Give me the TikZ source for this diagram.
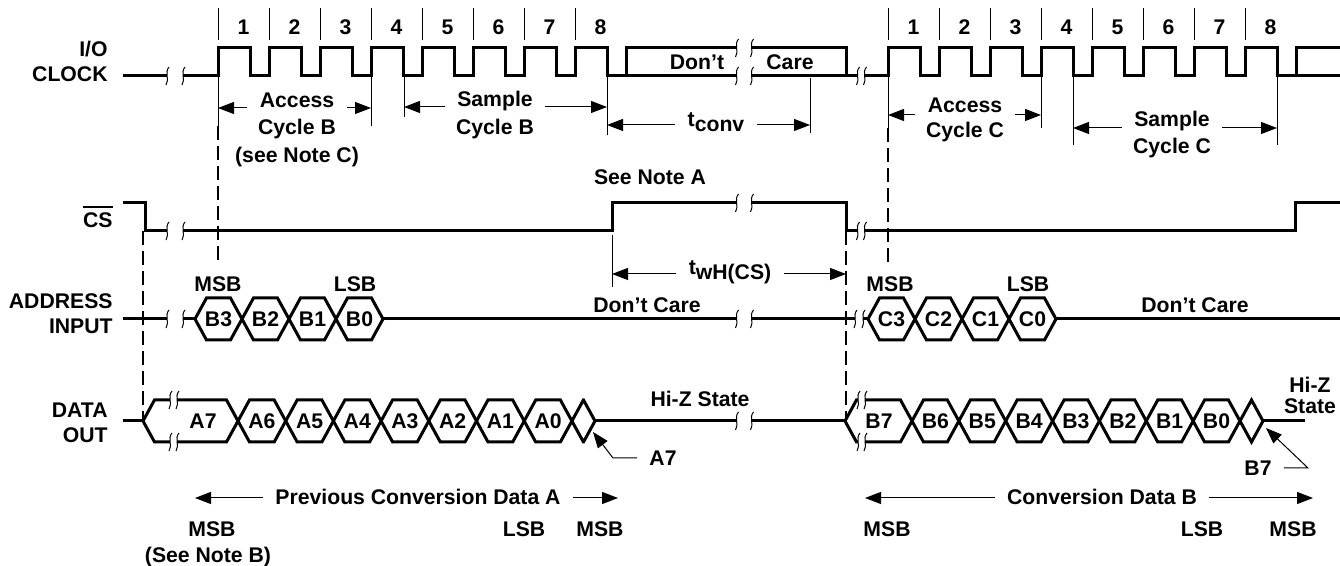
\documentclass[tikz,border=0pt]{standalone}
\usepackage{fontspec}
\setmainfont{Liberation Sans}
\usetikzlibrary{arrows.meta,positioning}

\tikzset{
  sig/.style={line width=1.5pt,line join=miter},
  thinln/.style={line width=0.5pt},
  guide/.style={line width=0.6pt,dash pattern=on 7pt off 3pt},
  dimarr/.style={line width=0.5pt,-{Triangle[length=8pt,width=6pt]}},
  lbl/.style={font=\fontsize{10.6}{12}\selectfont\bfseries,inner sep=0pt},
  arrlbl/.style={lbl,inner xsep=6pt}
}
% break mark: x, y, half gap
\newcommand{\brk}[3]{%
  \fill[white] (#1-#3,#2-4) rectangle (#1+#3,#2+4);
  \draw[thinln] (#1-#3+2,#2-9) .. controls (#1-#3-3,#2-3) and (#1-#3+3,#2+3) .. (#1-#3-1,#2+9);
  \draw[thinln] (#1+#3+2,#2-9) .. controls (#1+#3-3,#2-3) and (#1+#3+3,#2+3) .. (#1+#3-1,#2+9);
}
% bus cell: left tip, right tip, y
\newcommand{\cell}[3]{%
  \draw[sig] (#1,#3) -- (#1+11.5,#3-21) -- (#2-11.5,#3-21) -- (#2,#3)
    -- (#2-11.5,#3+21) -- (#1+11.5,#3+21) -- cycle;
}

\begin{document}
\begin{tikzpicture}[x=0.5pt,y=-0.5pt]
  \useasboundingbox (0,0) rectangle (1340,566);

  % row labels
  \node[lbl,anchor=base east] (io) at (108,57) {I/O};
  \node[lbl,anchor=base east] (clk) at (108,82) {CLOCK};
  \node[lbl,anchor=base east] (cs) at (113,228) {CS};
  \draw[line width=1pt] ([yshift=3pt]cs.north west) -- ([yshift=3pt]cs.north east);
  \node[lbl,anchor=base east] (addr) at (113,309) {ADDRESS};
  \node[lbl,anchor=base east] (inp) at (113,334) {INPUT};
  \node[lbl,anchor=base east] (dat) at (108,418) {DATA};
  \node[lbl,anchor=base east] (dout) at (108,443) {OUT};

  % I/O clock
  \draw[sig] (123,76) -- (218,76)
    foreach \k in {0,...,7} { -- ++(0,-28) -- ++(32,0) -- ++(0,28) -- ++(19,0) }
    -- ++(0,-28) -- (846,48) -- (846,76) -- (888,76)
    foreach \k in {0,...,7} { -- ++(0,-28) -- ++(32,0) -- ++(0,28) -- ++(19,0) }
    -- ++(0,-28) -- (1340,48);
  \draw[sig] (626,76) -- (846,76);
  \draw[sig] (1296,76) -- (1340,76);
  \node[lbl,anchor=base] (dc1) at (697,70) {Don't};
  \node[lbl,anchor=base] (dc2) at (790,70) {Care};
  \brk{175}{76}{8}
  \brk{744}{48}{7.5} \brk{744}{76}{7.5}
  \brk{861}{76}{3.5}

  % clock counts
  \foreach \k in {1,...,8} {
    \draw[thinln] (167+51*\k,8) -- ++(0,32);
    \node[lbl] (nb\k) at (192.5+51*\k,27) {\k};
    \draw[thinln] (837+51*\k,8) -- ++(0,32);
    \node[lbl] (nc\k) at (862.5+51*\k,27) {\k};
  }

  % CS
  \draw[sig] (123,203) -- (145,203) -- (145,231) -- (612,231) -- (612,203)
    -- (846,203) -- (846,231) -- (1295,231) -- (1295,203) -- (1340,203);
  \brk{175}{231}{8} \brk{744}{203}{7.5} \brk{861}{231}{3.5}
  \node[lbl,anchor=base] (nA) at (650,185) {See Note A};

  % address input
  \draw[sig] (123,319) -- (195,319);
  \foreach \t [count=\i from 0] in {B3,B2,B1,B0} {
    \cell{195+47*\i}{242+47*\i}{319}
    \node[lbl] (ad\t) at (218.5+47*\i,319) {\t};
  }
  \draw[sig] (383,319) -- (868,319);
  \foreach \t [count=\i from 0] in {C3,C2,C1,C0} {
    \cell{868+47*\i}{915+47*\i}{319}
    \node[lbl] (ad\t) at (891.5+47*\i,319) {\t};
  }
  \draw[sig] (1056,319) -- (1340,319);
  \brk{175}{319}{8} \brk{744}{319}{7.5} \brk{859}{319}{4}
  \node[lbl,anchor=base] (msbB) at (218,292) {MSB};
  \node[lbl,anchor=base] (lsbB) at (355,292) {LSB};
  \node[lbl,anchor=base] (msbC) at (890,292) {MSB};
  \node[lbl,anchor=base] (lsbC) at (1028,292) {LSB};
  \node[lbl,anchor=base] (dcA) at (647,313) {Don't Care};
  \node[lbl,anchor=base] (dcC) at (1195,313) {Don't Care};

  % data out
  \draw[sig] (123,421) -- (143,421);
  \cell{143}{238}{421}
  \node[lbl] (doA7) at (203,421) {A7};
  \foreach \t [count=\i from 0] in {A6,A5,A4,A3,A2,A1,A0} {
    \cell{238+47.7*\i}{285.7+47.7*\i}{421}
    \node[lbl] (do\t) at (261.85+47.7*\i,421) {\t};
  }
  \cell{571.9}{595}{421}
  \draw[sig] (595,421) -- (845,421);
  \cell{845}{912}{421}
  \node[lbl] (doB7) at (879,421) {B7};
  \foreach \t [count=\i from 0] in {B6,B5,B4,B3,B2,B1,B0} {
    \cell{912+46.85*\i}{958.85+46.85*\i}{421}
    \node[lbl] (do\t) at (935.4+46.85*\i,421) {\t};
  }
  \cell{1240}{1263}{421}
  \draw[sig] (1263,421) -- (1305,421);
  \brk{173.5}{400}{3.5} \brk{173.5}{442}{3.5}
  \brk{744}{421}{7.5}
  \brk{861.5}{400}{3.5} \brk{861.5}{442}{3.5}
  \node[lbl,anchor=base] (hiz) at (700,407) {Hi-Z State};
  \node[lbl,anchor=base] (hiz2) at (1310,393) {Hi-Z};
  \node[lbl,anchor=base] (hiz3) at (1310,414) {State};

  % guide lines
  \draw[thinln] (218,76) -- (218,126);
  \draw[guide] (218,126) -- (218,265);
  \draw[thinln] (888,76) -- (888,128);
  \draw[guide] (888,128) -- (888,265);
  \draw[guide] (143,231) -- (143,421);
  \draw[guide] (846,231) -- (846,421);
  \draw[thinln] (371,76) -- (371,126);
  \draw[thinln] (404,76) -- (404,117);
  \draw[thinln] (607,76) -- (607,135);
  \draw[thinln] (810,78) -- (810,133);
  \draw[thinln] (1041,76) -- (1041,128);
  \draw[thinln] (1073,76) -- (1073,145);
  \draw[thinln] (1277,76) -- (1277,145);
  \draw[thinln] (612,235) -- (612,287);

  % access / sample cycles
  \coordinate (accBl) at (218,108);
  \coordinate (accBr) at (371,108);
  \node[arrlbl,anchor=base] (accB) at (297,108) {Access};
  \node[lbl,anchor=base] (accB2) at (297,135) {Cycle B};
  \node[lbl,anchor=base] (accB3) at (297,163) {(see Note C)};
  \draw[dimarr] (accB.west |- accBl) -- (accBl);
  \draw[dimarr] (accB.east |- accBr) -- (accBr);

  \coordinate (smpBl) at (404,107);
  \coordinate (smpBr) at (607,107);
  \node[arrlbl,anchor=base] (smpB) at (495,107) {Sample};
  \node[lbl,anchor=base] (smpB2) at (495,135) {Cycle B};
  \draw[dimarr] (smpB.west |- smpBl) -- (smpBl);
  \draw[dimarr] (smpB.east |- smpBr) -- (smpBr);

  \coordinate (tcvl) at (607,125);
  \coordinate (tcvr) at (810,125);
  \node[arrlbl,anchor=base] (tcv) at (716,127) {t\raisebox{-0.4ex}{conv}};
  \draw[dimarr] (tcv.west |- tcvl) -- (tcvl);
  \draw[dimarr] (tcv.east |- tcvr) -- (tcvr);

  \coordinate (accCl) at (888,115);
  \coordinate (accCr) at (1041,115);
  \node[arrlbl,anchor=base] (accC) at (965,113) {Access};
  \node[lbl,anchor=base] (accC2) at (965,138) {Cycle C};
  \draw[dimarr] (accC.west |- accCl) -- (accCl);
  \draw[dimarr] (accC.east |- accCr) -- (accCr);

  \coordinate (smpCl) at (1073,128);
  \coordinate (smpCr) at (1277,128);
  \node[arrlbl,anchor=base] (smpC) at (1172,127) {Sample};
  \node[lbl,anchor=base] (smpC2) at (1172,154) {Cycle C};
  \draw[dimarr] (smpC.west |- smpCl) -- (smpCl);
  \draw[dimarr] (smpC.east |- smpCr) -- (smpCr);

  \coordinate (twhl) at (612,274);
  \coordinate (twhr) at (846,274);
  \node[arrlbl,anchor=base] (twh) at (730,275) {t\raisebox{-0.4ex}{wH(CS)}};
  \draw[dimarr] (twh.west |- twhl) -- (twhl);
  \draw[dimarr] (twh.east |- twhr) -- (twhr);

  % callouts
  \node[arrlbl] (lA7) at (663,458) {A7};
  \coordinate (tipA7) at (593,432);
  \draw[dimarr] (lA7.west) -- (613,458) -- (tipA7);
  \node[arrlbl] (lB7) at (1258,468) {B7};
  \coordinate (tipB7) at (1266,428);
  \draw[dimarr] (lB7.east) -- (1308,468) -- (tipB7);

  % conversion data spans
  \coordinate (cdAl) at (195,498);
  \coordinate (cdAr) at (618,498);
  \node[arrlbl,anchor=base] (cdA) at (418,505) {Previous Conversion Data A};
  \draw[dimarr] (cdA.west |- cdAl) -- (cdAl);
  \draw[dimarr] (cdA.east |- cdAr) -- (cdAr);
  \coordinate (cdBl) at (865,498);
  \coordinate (cdBr) at (1313,498);
  \node[arrlbl,anchor=base] (cdB) at (1102,505) {Conversion Data B};
  \draw[dimarr] (cdB.west |- cdBl) -- (cdBl);
  \draw[dimarr] (cdB.east |- cdBr) -- (cdBr);

  \node[lbl,anchor=base] (m1) at (212,537) {MSB};
  \node[lbl,anchor=base] (nB) at (208,563) {(See Note B)};
  \node[lbl,anchor=base] (l1) at (524,537) {LSB};
  \node[lbl,anchor=base] (m2) at (600,537) {MSB};
  \node[lbl,anchor=base] (m3) at (887,537) {MSB};
  \node[lbl,anchor=base] (l2) at (1202,537) {LSB};
  \node[lbl,anchor=base] (m4) at (1293,537) {MSB};
\end{tikzpicture}
\end{document}
